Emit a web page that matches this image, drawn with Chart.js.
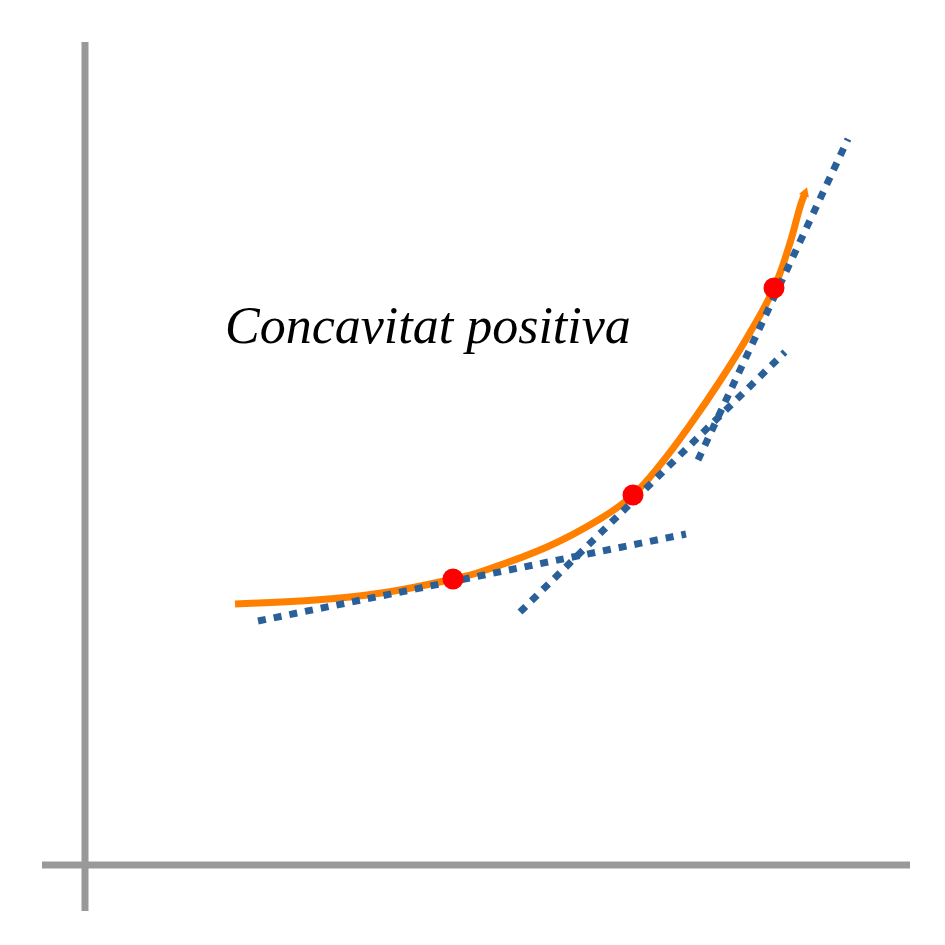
<!DOCTYPE html>
<html>
<head>
<meta charset="utf-8">
<script src="https://cdn.jsdelivr.net/npm/chart.js@4"></script>
<style>
  html, body { margin: 0; padding: 0; background: #fff; }
  #wrap { width: 945px; height: 945px; }
</style>
</head>
<body>
<div id="wrap"><canvas id="concavityChart"></canvas></div>
<script>
// ====== data (units: 1 = 100 px, origin at the axes crossing) ======
const curveX = [1.50, 2.15, 2.65, 3.15, 3.68, 3.95, 4.62, 5.15, 5.48, 5.75, 6.05, 6.35, 6.63, 6.89, 7.05, 7.15, 7.20];
const curveY = [2.61, 2.64, 2.68, 2.75, 2.86, 2.93, 3.18, 3.46, 3.70, 4.00, 4.40, 4.84, 5.29, 5.77, 6.22, 6.58, 6.72];

const pointX = [3.68, 5.48, 6.89];
const pointY = [2.86, 3.70, 5.77];

// tangent segments: [startX, endX], [startY, endY]
const tangentX = [[1.73, 6.01], [4.35, 7.00], [6.13, 7.63]];
const tangentY = [[2.44, 3.31], [2.53, 5.13], [4.05, 7.26]];

const xAxisX = [-0.43, 8.25];
const xAxisY = [0, 0];
const yAxisX = [0, 0];
const yAxisY = [-0.46, 8.23];

const labelText = "Concavitat positiva";
const labelPos = [1.40, 5.22];

const zip = (xs, ys) => xs.map((x, i) => ({ x: x, y: ys[i] }));

// ====== datasets ======
const datasets = [];

datasets.push({
    label: "eix x",
    data: zip(xAxisX, xAxisY),
    showLine: true, borderColor: "#999999", borderWidth: 7,
    pointRadius: 0, clip: false, order: 4
});
datasets.push({
    label: "eix y",
    data: zip(yAxisX, yAxisY),
    showLine: true, borderColor: "#999999", borderWidth: 7,
    pointRadius: 0, clip: false, order: 4
});

datasets.push({
    label: "corba",
    data: zip(curveX, curveY),
    showLine: true, borderColor: "#ff7f00", borderWidth: 7,
    tension: 0.4,
    pointRadius: curveX.map((_, i) => i === curveX.length - 1 ? 6 : 0),
    pointStyle: "triangle", pointRotation: 20,
    pointBackgroundColor: "#ff7f00", pointBorderWidth: 0,
    clip: false, order: 3
});

tangentX.forEach((xs, i) => {
    datasets.push({
        label: "tangent " + (i + 1),
        data: zip(xs, tangentY[i]),
        showLine: true, borderColor: "#2a6099", borderWidth: 7,
        borderDash: [8, 8], borderCapStyle: "butt",
        pointRadius: 0, clip: false, order: 2
    });
});

datasets.push({
    label: "punts",
    data: zip(pointX, pointY),
    showLine: false, pointRadius: 10.5, pointHoverRadius: 10.5,
    pointBackgroundColor: "#ff0000", pointBorderWidth: 0,
    clip: false, order: 1
});

// text label drawn at data coordinates
const labelPlugin = {
    id: "labelPlugin",
    afterDraw(chart) {
        const ctx = chart.ctx;
        const px = chart.scales.x.getPixelForValue(labelPos[0]);
        const py = chart.scales.y.getPixelForValue(labelPos[1]);
        ctx.save();
        ctx.font = "italic 52px 'Liberation Serif', 'DejaVu Serif', serif";
        ctx.fillStyle = "#000000";
        ctx.textAlign = "left";
        ctx.textBaseline = "alphabetic";
        ctx.fillText(labelText, px, py);
        ctx.restore();
    }
};

new Chart(document.getElementById("concavityChart").getContext("2d"), {
    type: "scatter",
    data: { datasets: datasets },
    options: {
        responsive: true,
        maintainAspectRatio: false,
        animation: false,
        layout: { padding: { left: 42, right: 35, top: 42, bottom: 34 } },
        scales: {
            x: { type: "linear", min: xAxisX[0], max: xAxisX[1], display: false },
            y: { type: "linear", min: yAxisY[0], max: yAxisY[1], display: false }
        },
        plugins: {
            legend: { display: false },
            tooltip: { enabled: false }
        }
    },
    plugins: [labelPlugin]
});
</script>
</body>
</html>
